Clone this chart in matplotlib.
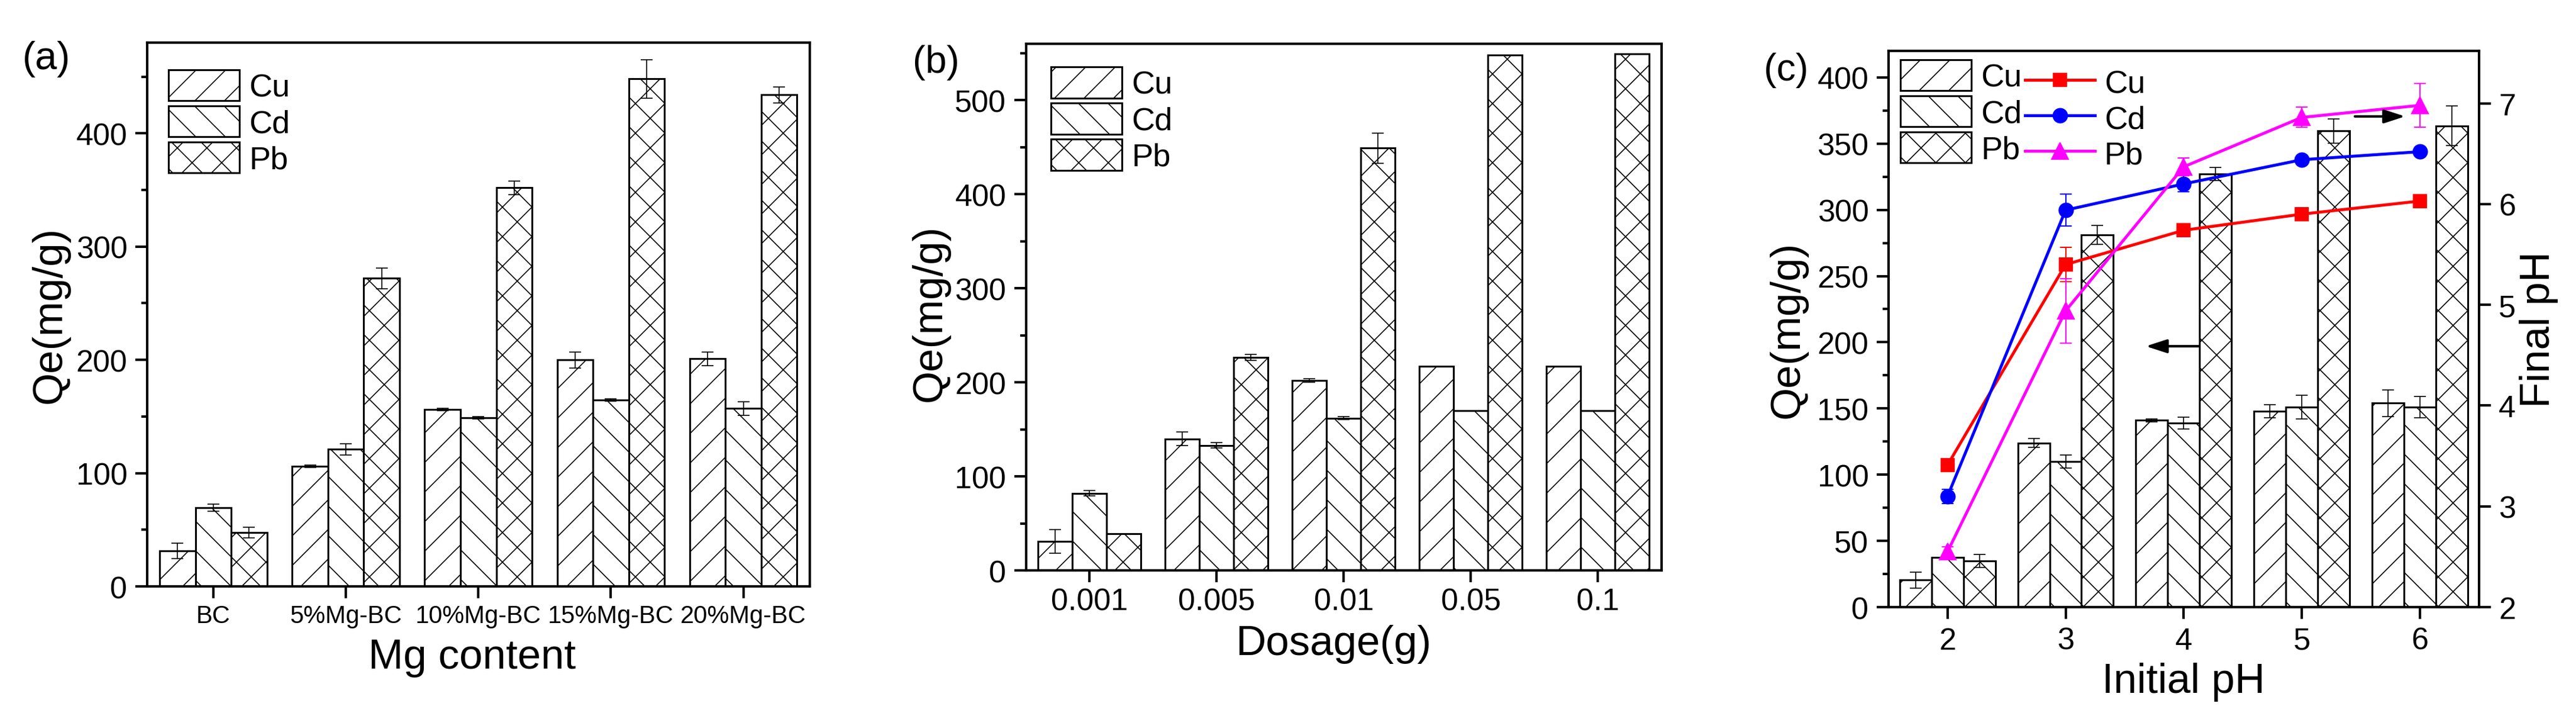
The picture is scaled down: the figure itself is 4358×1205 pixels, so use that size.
import numpy as np
import matplotlib
matplotlib.use("Agg")
import matplotlib.pyplot as plt
from matplotlib.ticker import MultipleLocator

#Data
metals = ["Cu", "Cd", "Pb"]

#(a) Mg content
mg_labels = ["BC", "5%Mg-BC", "10%Mg-BC", "15%Mg-BC", "20%Mg-BC"]
mg_cu = [31.4, 106, 156, 200, 201]
mg_cd = [69.5, 121, 149, 164.5, 157]
mg_pb = [47.5, 272, 352, 448, 434]
mg_cu_err = [6.7, 1, 1, 7, 6]
mg_cd_err = [3, 5, 1, 1, 6]
mg_pb_err = [4.7, 9, 6, 17, 7]

#(b) Dosage
dose_labels = ["0.001", "0.005", "0.01", "0.05", "0.1"]
dose_cu = [31, 140, 202, 217, 217]
dose_cd = [82, 133, 162, 170, 170]
dose_pb = [39, 226.5, 449, 548, 549]
dose_cu_err = [12.5, 7, 2, 0, 0]
dose_cd_err = [3, 3, 1.5, 0, 0]
dose_pb_err = [0, 3, 16, 0, 0]

#(c) Initial pH
ph = [2, 3, 4, 5, 6]
ph_cu = [20.5, 124, 141, 148, 154]
ph_cd = [37.5, 110, 139, 151, 151]
ph_pb = [35, 281, 327, 359.5, 363.5]
ph_cu_err = [6, 3.5, 1, 5, 10]
ph_cd_err = [1.5, 5, 4.5, 9, 8]
ph_pb_err = [5, 7, 5, 9, 15]

final_cu = [3.41, 5.40, 5.74, 5.90, 6.03]
final_cd = [3.10, 5.94, 6.20, 6.44, 6.52]
final_pb = [2.55, 4.94, 6.37, 6.86, 6.98]
final_cu_err = [0.05, 0.17, 0.04, 0.04, 0.03]
final_cd_err = [0.07, 0.16, 0.08, 0.03, 0.03]
final_pb_err = [0.05, 0.32, 0.09, 0.10, 0.22]

#Styles
hatches = ["/", "\\", "x"]
line_colors = ["red", "blue", "magenta"]
line_markers = ["s", "o", "^"]
line_ms = [10.5, 11.5, 13]

plt.rcParams["font.family"] = "Liberation Sans"
plt.rcParams["hatch.linewidth"] = 0.8


def draw_bars(ax, x, series, errors, width=0.27):
    x = np.asarray(x, dtype=float)
    for i in range(3):
        ax.bar(x + (i - 1) * width, series[i], width, yerr=errors[i], color="white",
               edgecolor="black", linewidth=1.5, hatch=hatches[i], label=metals[i],
               error_kw=dict(ecolor="black", elinewidth=0.8, capsize=5, capthick=0.8))


def style_axes(ax, xtick_size=25):
    for sp in ax.spines.values():
        sp.set_linewidth(2)
    ax.tick_params(axis="both", which="major", direction="out", length=9.6, width=2, labelsize=25)
    ax.tick_params(axis="y", which="major", pad=6.5)
    ax.tick_params(axis="x", which="major", labelsize=xtick_size, pad=5)
    ax.tick_params(axis="y", which="minor", direction="out", length=4.8, width=2)
    ax.tick_params(axis="x", which="minor", bottom=False)
    ax.tick_params(top=False, right=False)


def bar_legend(ax, anchor):
    ax.legend(loc="upper left", bbox_to_anchor=anchor, frameon=False, fontsize=26,
              handlelength=2.22, handleheight=1.11, labelspacing=0.1, handletextpad=0.3,
              borderaxespad=0, borderpad=0)


#Figure
fig = plt.figure(figsize=(4358 / 150, 1206 / 150), dpi=150)

########################################################################################################################
#(a) Mg content
########################################################################################################################
ax_a = fig.add_axes([0.0571, 0.1774, 0.2572, 0.7620])
draw_bars(ax_a, np.arange(len(mg_labels)), [mg_cu, mg_cd, mg_pb], [mg_cu_err, mg_cd_err, mg_pb_err])
ax_a.set_xlim(-0.5, 4.5)
ax_a.set_ylim(0, 480)
ax_a.set_xticks(np.arange(len(mg_labels)))
ax_a.set_xticklabels(mg_labels)
ax_a.yaxis.set_major_locator(MultipleLocator(100))
ax_a.yaxis.set_minor_locator(MultipleLocator(50))
style_axes(ax_a, xtick_size=20)
ax_a.set_xlabel("Mg content", fontsize=34)
ax_a.set_ylabel("Qe(mg/g)", fontsize=34)
ax_a.xaxis.set_label_coords(0.49, -0.095)
ax_a.yaxis.set_label_coords(-0.117, 0.5)
bar_legend(ax_a, (0.032, 0.95))

########################################################################################################################
#(b) Dosage
########################################################################################################################
ax_b = fig.add_axes([0.3983, 0.1998, 0.2467, 0.7380])
draw_bars(ax_b, np.arange(len(dose_labels)), [dose_cu, dose_cd, dose_pb], [dose_cu_err, dose_cd_err, dose_pb_err])
ax_b.set_xlim(-0.5, 4.5)
ax_b.set_ylim(0, 560)
ax_b.set_xticks(np.arange(len(dose_labels)))
ax_b.set_xticklabels(dose_labels)
ax_b.yaxis.set_major_locator(MultipleLocator(100))
ax_b.yaxis.set_minor_locator(MultipleLocator(50))
style_axes(ax_b)
ax_b.tick_params(axis="x", which="major", pad=4)
ax_b.set_xlabel("Dosage(g)", fontsize=34)
ax_b.set_ylabel("Qe(mg/g)", fontsize=34)
ax_b.xaxis.set_label_coords(0.484, -0.102)
ax_b.yaxis.set_label_coords(-0.12, 0.49)
bar_legend(ax_b, (0.039, 0.956))

########################################################################################################################
#(c) Initial pH with final pH on the right axis
########################################################################################################################
ax_c = fig.add_axes([0.7331, 0.1484, 0.2292, 0.7794])
draw_bars(ax_c, ph, [ph_cu, ph_cd, ph_pb], [ph_cu_err, ph_cd_err, ph_pb_err])
ax_c.set_xlim(1.5, 6.5)
ax_c.set_ylim(0, 420)
ax_c.set_xticks(ph)
ax_c.yaxis.set_major_locator(MultipleLocator(50))
ax_c.yaxis.set_minor_locator(MultipleLocator(25))
style_axes(ax_c)
ax_c.tick_params(axis="x", which="major", pad=6)
ax_c.set_xlabel("Initial pH", fontsize=34)
ax_c.set_ylabel("Qe(mg/g)", fontsize=34)
ax_c.xaxis.set_label_coords(0.5, -0.099)
ax_c.yaxis.set_label_coords(-0.137, 0.5)
bar_legend(ax_c, (0.02, 0.984))

ax_c2 = ax_c.twinx()
ax_c2.set_ylim(2, 7.52)
ax_c2.yaxis.set_major_locator(MultipleLocator(1))
ax_c2.tick_params(axis="y", which="major", direction="out", length=9.6, width=2, labelsize=25, pad=6.5)
ax_c2.set_ylabel("Final pH", fontsize=34)
ax_c2.yaxis.set_label_coords(1.068, 0.5)

line_handles = []
for vals, errs, col, mk, ms, name in zip([final_cu, final_cd, final_pb], [final_cu_err, final_cd_err, final_pb_err],
                                         line_colors, line_markers, line_ms, metals):
    eb = ax_c2.errorbar(ph, vals, yerr=errs, color=col, marker=mk, markersize=ms, linewidth=2.4,
                        elinewidth=1, capsize=5, capthick=1, label=name)
    line_handles.append(eb[0])

ax_c2.legend(handles=line_handles, labels=metals, loc="upper left", bbox_to_anchor=(0.231, 0.972),
             frameon=False, fontsize=26, handlelength=2.18, handleheight=1.11, labelspacing=0.08,
             handletextpad=0.3, borderaxespad=0, borderpad=0)

#Arrows pointing to the matching axis
ax_c.annotate("", xy=(3.68, 197), xytext=(4.125, 197),
              arrowprops=dict(arrowstyle="-|>,head_length=0.4,head_width=0.13", mutation_scale=36,
                              lw=2, color="black", shrinkA=0, shrinkB=0))
ax_c2.annotate("", xy=(5.875, 6.87), xytext=(5.45, 6.87),
               arrowprops=dict(arrowstyle="-|>,head_length=0.4,head_width=0.13", mutation_scale=36,
                               lw=2, color="black", shrinkA=0, shrinkB=0))

#Panel letters
fig.text(79 / 4358, 1 - 100 / 1206, "(a)", fontsize=32, ha="center", va="center")
fig.text(1584 / 4358, 1 - 106 / 1206, "(b)", fontsize=31, ha="center", va="center")
fig.text(3022 / 4358, 1 - 119 / 1206, "(c)", fontsize=31, ha="center", va="center")

fig.savefig("out.png", dpi=150)
